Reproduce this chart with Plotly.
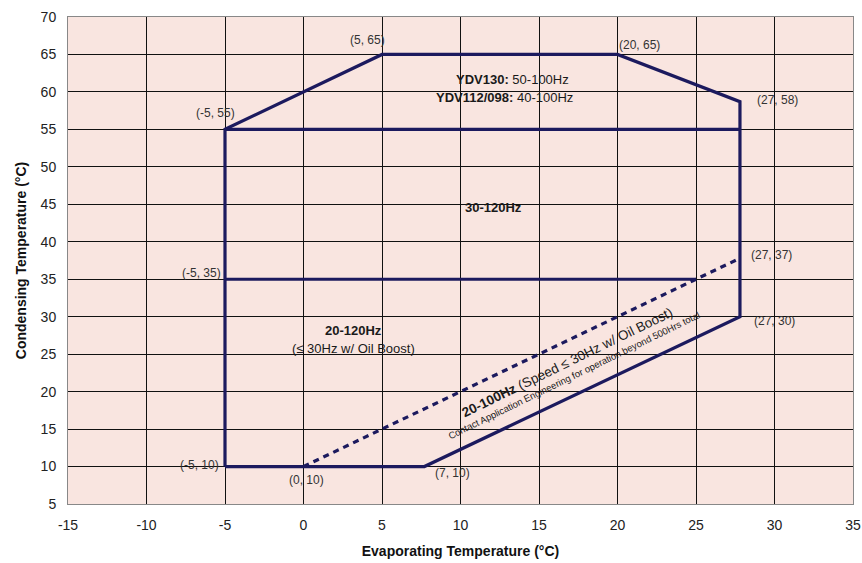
import plotly.graph_objects as go

# Envelope outline (evaporating °C, condensing °C)
outline_x = [-5, -5, 5, 20, 27.8, 27.8, 7.7, -5]
outline_y = [10, 55, 65, 65, 58.7, 30, 10, 10]
# Internal boundary at 55 °C
line55_x = [-5, 27.8]
line55_y = [55, 55]
# Internal boundary at 35 °C
line35_x = [-5, 25]
line35_y = [35, 35]
# Oil boost dashed boundary
dash_x = [0, 27.8]
dash_y = [10, 37.8]

x_ticks = list(range(-15, 36, 5))
x_ticktext = [str(v) for v in x_ticks]
y_ticks = list(range(5, 71, 5))
y_ticktext = [str(v) for v in y_ticks]

NAVY = "#1c1a5e"
fig = go.Figure()
for xs, ys, d in [(outline_x, outline_y, "solid"), (line55_x, line55_y, "solid"),
                  (line35_x, line35_y, "solid"), (dash_x, dash_y, "6px,5px")]:
    fig.add_trace(go.Scatter(x=xs, y=ys, mode="lines",
                             line=dict(color=NAVY, width=3.2, dash=d),
                             hoverinfo="skip", showlegend=False))

FONT = "Liberation Sans, Arial, sans-serif"
labels = [
    ("(5, 65)", 4.1, 66.9), ("(20, 65)", 21.4, 66.3), ("(-5, 55)", -5.6, 57.2),
    ("(27, 58)", 30.2, 58.9), ("(27, 37)", 29.8, 38.2), ("(-5, 35)", -6.5, 35.8),
    ("(27, 30)", 30.0, 29.4), ("(-5, 10)", -6.6, 10.2), ("(0, 10)", 0.2, 8.2),
    ("(7, 10)", 9.5, 9.1),
]
anns = []
for t, x, y in labels:
    anns.append(dict(text=t, x=x, y=y, xref="x", yref="y", showarrow=False,
                     font=dict(size=12, color="#333333", family=FONT)))
big = [
    ("<b>YDV130:</b> 50-100Hz", 13.3, 61.6, 13),
    ("<b>YDV112/098:</b> 40-100Hz", 12.8, 59.3, 13),
    ("<b>30-120Hz</b>", 12.1, 44.6, 13),
    ("<b>20-120Hz</b>", 3.2, 28.2, 13),
    ("(≤ 30Hz w/ Oil Boost)", 3.2, 25.8, 13),
]
for t, x, y, s in big:
    anns.append(dict(text=t, x=x, y=y, xref="x", yref="y", showarrow=False,
                     font=dict(size=s, color="#1a1a1a", family=FONT)))
anns.append(dict(text="<b>20-100Hz</b> (Speed ≤ 30Hz w/ Oil Boost)", x=16.8, y=23.9,
                 xref="x", yref="y", showarrow=False, textangle=-26,
                 font=dict(size=13.5, color="#1a1a1a", family=FONT)))
anns.append(dict(text="Contact Application Engineering for operation beyond 500Hrs total",
                 x=17.2, y=22.1, xref="x", yref="y", showarrow=False, textangle=-26,
                 font=dict(size=9.5, color="#1a1a1a", family=FONT)))

fig.update_layout(
    width=862, height=563,
    margin=dict(l=68, r=9, t=17, b=59),
    paper_bgcolor="white", plot_bgcolor="#f9e5e0",
    font=dict(family=FONT, size=14, color="#222222"),
    annotations=anns,
    xaxis=dict(range=[-15, 35], tickvals=x_ticks, ticktext=x_ticktext, showgrid=True,
               gridcolor="#111111", gridwidth=1, zeroline=False, showline=True,
               linecolor="#888888", linewidth=1, mirror=True, ticks="",
               automargin=False, ticklabelstandoff=8, ticklabeloverflow="allow",
               title=dict(text="<b>Evaporating Temperature (°C)</b>",
                          font=dict(size=14, color="#111111"), standoff=14)),
    yaxis=dict(range=[5, 70], tickvals=y_ticks, ticktext=y_ticktext, showgrid=True,
               gridcolor="#111111", gridwidth=1, zeroline=False, showline=True,
               linecolor="#888888", linewidth=1, mirror=True, ticks="",
               automargin=False, ticklabelstandoff=8, ticklabeloverflow="allow",
               title=dict(text="<b>Condensing Temperature (°C)</b>",
                          font=dict(size=14, color="#111111"), standoff=10)),
)
fig.write_html("out.html", config={"displayModeBar": False},
               post_script="document.body.style.margin='0';")
